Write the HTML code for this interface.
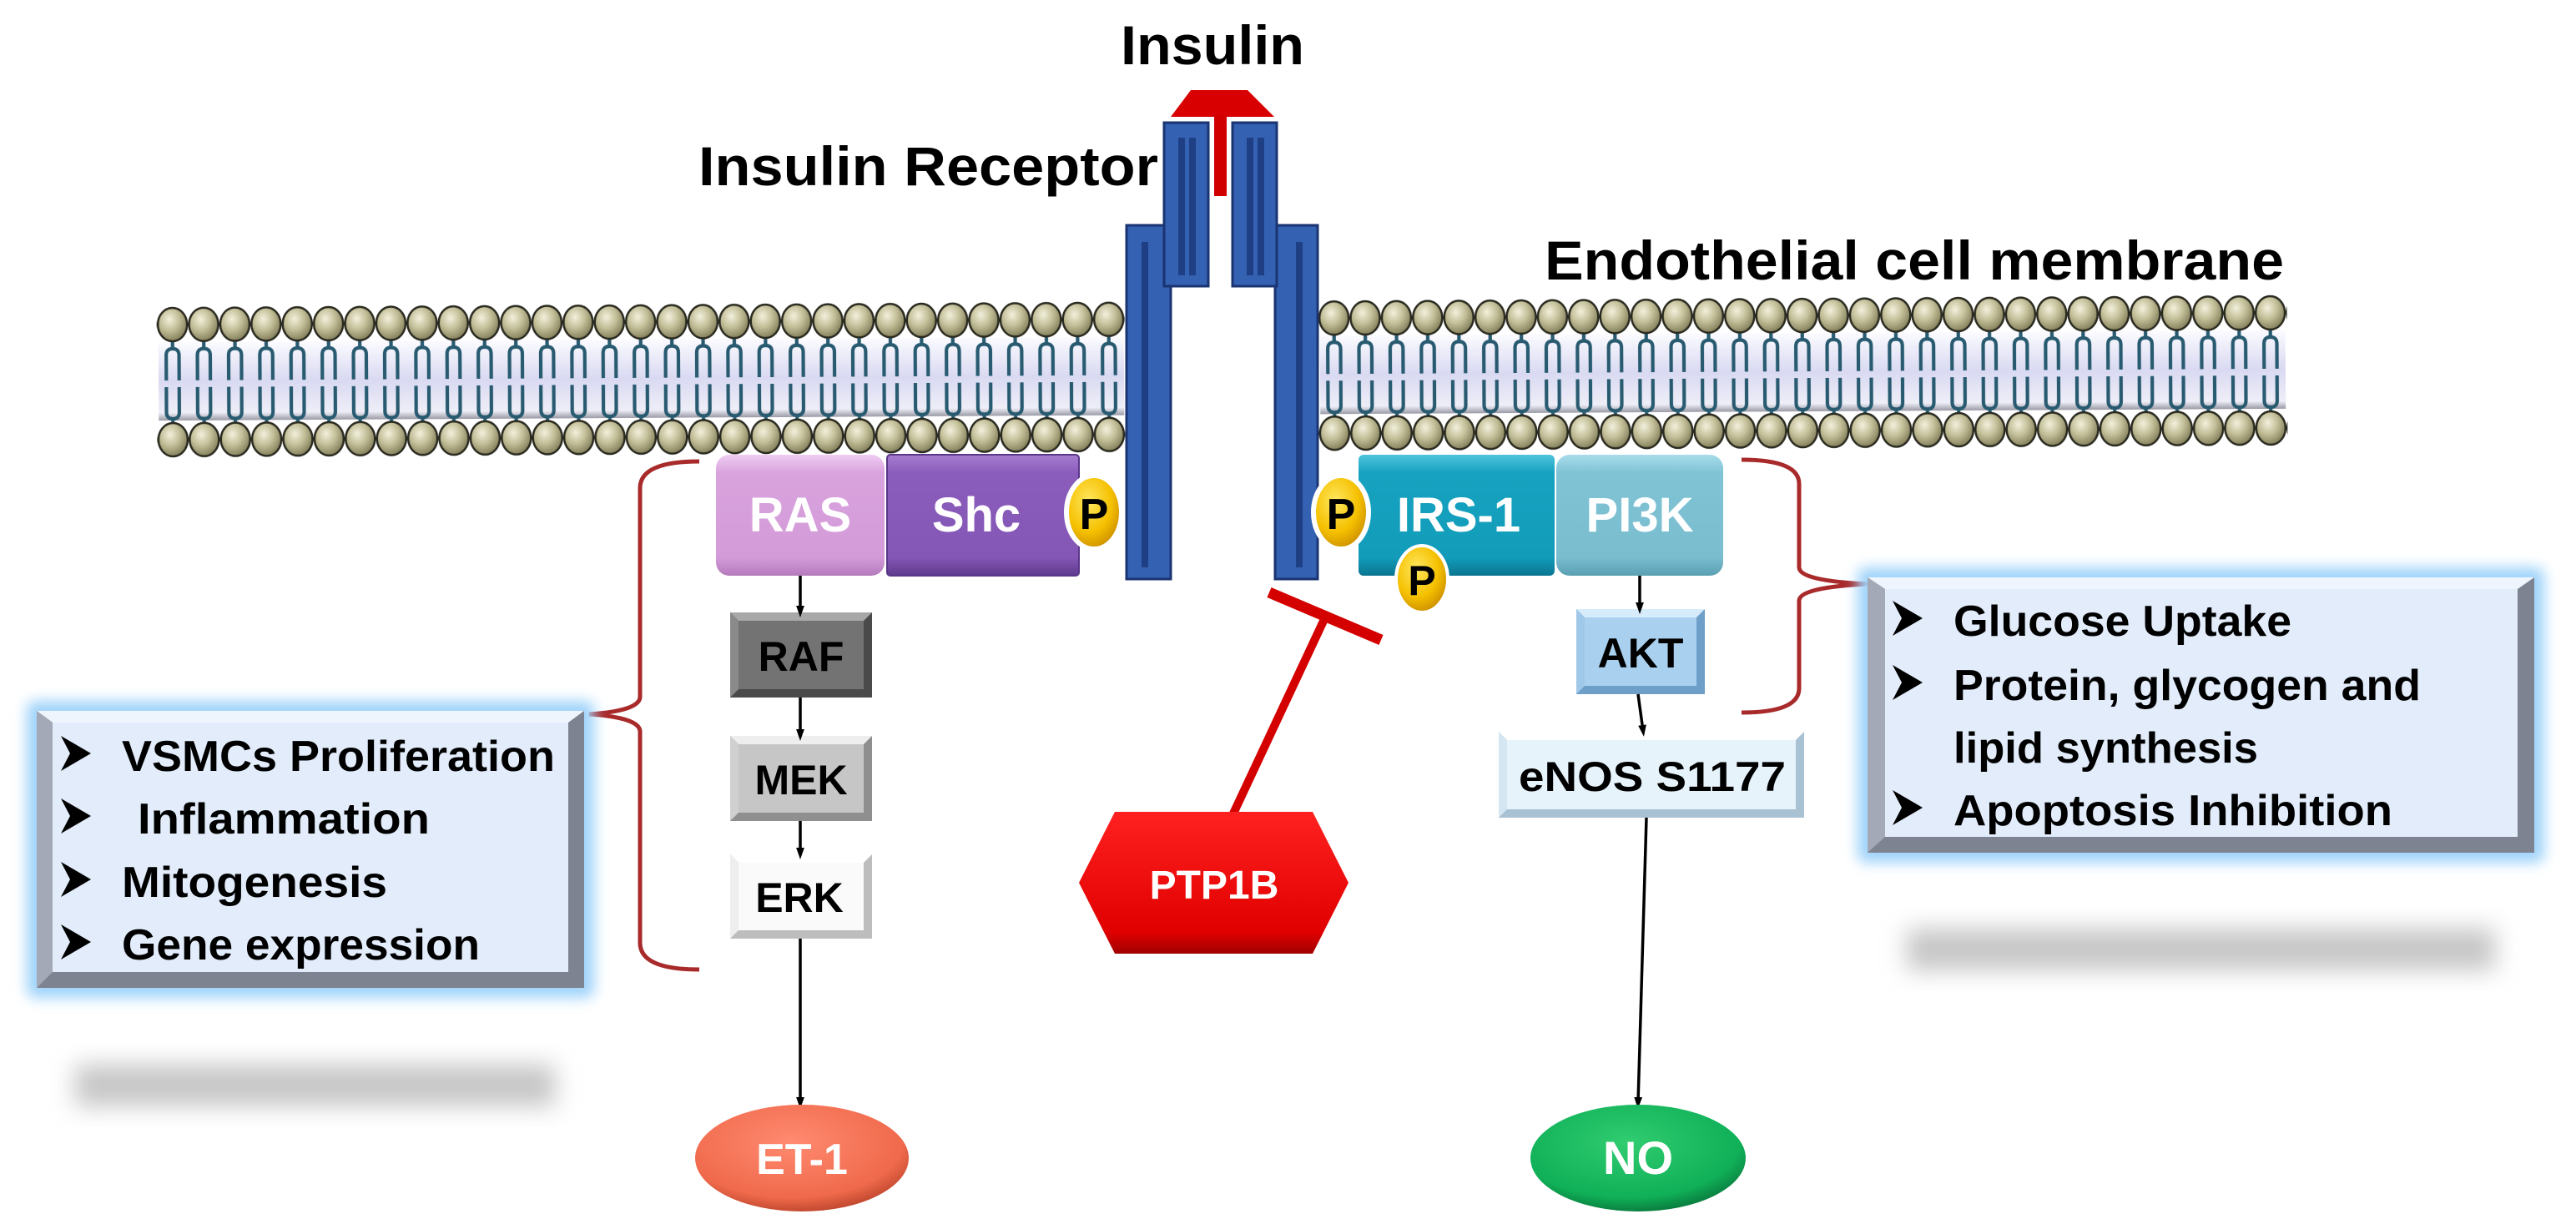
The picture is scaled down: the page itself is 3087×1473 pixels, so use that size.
<!DOCTYPE html>
<html><head><meta charset="utf-8"><style>
html,body{margin:0;padding:0;background:#fff;}
svg{display:block;}
text{font-family:"Liberation Sans",Arial,sans-serif;font-weight:bold;}
</style></head><body>
<svg width="3087" height="1473" viewBox="0 0 3087 1473" xmlns="http://www.w3.org/2000/svg">
<defs>
<radialGradient id="ball" cx="40%" cy="35%" r="65%"><stop offset="0" stop-color="#f2f0dc"/><stop offset="0.5" stop-color="#c4c09a"/><stop offset="1" stop-color="#85815c"/></radialGradient>
<linearGradient id="band" x1="0" y1="0" x2="0" y2="1"><stop offset="0" stop-color="#fbfbff"/><stop offset="0.5" stop-color="#d9d9f2"/><stop offset="0.9" stop-color="#eeeef8"/><stop offset="1" stop-color="#9a9aa6"/></linearGradient>
<pattern id="lipL" patternUnits="userSpaceOnUse" x="188.3" y="345" width="37.4" height="200">
<path d="M18.7,56 V65 M11,104 V74 Q11,66 18.7,66 Q26.4,66 26.4,74 V104 M11,112 V142 Q11,150 18.7,150 Q26.4,150 26.4,142 V112 M18.7,150 V158" stroke="#285a70" stroke-width="4.2" fill="none"/>
<ellipse cx="18.7" cy="37" rx="17.5" ry="20" fill="url(#ball)" stroke="#2a2a20" stroke-width="2.5"/>
<ellipse cx="18.7" cy="175" rx="17.5" ry="20" fill="url(#ball)" stroke="#2a2a20" stroke-width="2.5"/>
</pattern>
<pattern id="lipR" patternUnits="userSpaceOnUse" x="1580.3" y="345" width="37.4" height="200">
<path d="M18.7,56 V65 M11,104 V74 Q11,66 18.7,66 Q26.4,66 26.4,74 V104 M11,112 V142 Q11,150 18.7,150 Q26.4,150 26.4,142 V112 M18.7,150 V158" stroke="#285a70" stroke-width="4.2" fill="none"/>
<ellipse cx="18.7" cy="37" rx="17.5" ry="20" fill="url(#ball)" stroke="#2a2a20" stroke-width="2.5"/>
<ellipse cx="18.7" cy="175" rx="17.5" ry="20" fill="url(#ball)" stroke="#2a2a20" stroke-width="2.5"/>
</pattern>
<linearGradient id="gRAS" x1="0" y1="0" x2="0" y2="1"><stop offset="0" stop-color="#efcdf2"/><stop offset="0.15" stop-color="#d9a3de"/><stop offset="0.85" stop-color="#d39bd8"/><stop offset="1" stop-color="#b57abd"/></linearGradient>
<linearGradient id="gShc" x1="0" y1="0" x2="0" y2="1"><stop offset="0" stop-color="#a57ed0"/><stop offset="0.15" stop-color="#8a5cbb"/><stop offset="0.85" stop-color="#8457b6"/><stop offset="1" stop-color="#5e3a8c"/></linearGradient>
<linearGradient id="gIRS" x1="0" y1="0" x2="0" y2="1"><stop offset="0" stop-color="#4fc4dc"/><stop offset="0.15" stop-color="#16a2c0"/><stop offset="0.85" stop-color="#129cba"/><stop offset="1" stop-color="#0a7590"/></linearGradient>
<linearGradient id="gPI3K" x1="0" y1="0" x2="0" y2="1"><stop offset="0" stop-color="#a8dcea"/><stop offset="0.15" stop-color="#7fc3d5"/><stop offset="0.85" stop-color="#79bdcf"/><stop offset="1" stop-color="#5a9fb2"/></linearGradient>
<radialGradient id="gP" cx="40%" cy="35%" r="70%"><stop offset="0" stop-color="#ffe860"/><stop offset="0.6" stop-color="#f5c000"/><stop offset="1" stop-color="#c88a00"/></radialGradient>
<radialGradient id="gET" cx="45%" cy="35%" r="65%"><stop offset="0" stop-color="#ff8a70"/><stop offset="0.8" stop-color="#f06a4c"/><stop offset="1" stop-color="#c44a30"/></radialGradient>
<radialGradient id="gNO" cx="45%" cy="35%" r="65%"><stop offset="0" stop-color="#30cc70"/><stop offset="0.8" stop-color="#10b058"/><stop offset="1" stop-color="#0a8040"/></radialGradient>
<linearGradient id="gPTP" x1="0" y1="0" x2="0" y2="1"><stop offset="0" stop-color="#ff2020"/><stop offset="0.85" stop-color="#e00000"/><stop offset="1" stop-color="#a00000"/></linearGradient>
<filter id="blur" x="-20%" y="-50%" width="140%" height="200%"><feGaussianBlur stdDeviation="14"/></filter>
<filter id="glow" x="-10%" y="-10%" width="120%" height="120%"><feGaussianBlur stdDeviation="8"/></filter>
<marker id="ah" markerWidth="14" markerHeight="20" refX="10" refY="7" orient="auto" markerUnits="userSpaceOnUse" viewBox="0 0 20 14"><path d="M0,0 L20,7 L0,14 Z" fill="#000"/></marker>
</defs>

<text x="1343" y="77" font-size="66" textLength="220" lengthAdjust="spacingAndGlyphs">Insulin</text>
<text x="837" y="222" font-size="66" textLength="551" lengthAdjust="spacingAndGlyphs">Insulin Receptor</text>
<text x="1851" y="335" font-size="66" textLength="886" lengthAdjust="spacingAndGlyphs">Endothelial cell membrane</text>

<g transform="rotate(-0.32 1460 450)">
<rect x="190" y="403" width="1157" height="94" fill="url(#band)"/>
<rect x="1582" y="403" width="1157" height="94" fill="url(#band)"/>
<rect x="188" y="345" width="1160" height="200" fill="url(#lipL)"/>
<rect x="1580" y="345" width="1161" height="200" fill="url(#lipR)"/>
</g>

<polygon points="1403,140 1427,108 1495,108 1527,140" fill="#d80000"/>
<rect x="1455" y="138" width="15" height="97" fill="#d00000"/>

<g stroke="#1a3472" stroke-width="3">
<rect x="1350" y="270" width="53" height="424" fill="#3461b2"/>
<rect x="1528" y="270" width="51" height="424" fill="#3461b2"/>
<rect x="1395" y="147" width="53" height="196" fill="#3461b2"/>
<rect x="1477" y="147" width="53" height="196" fill="#3461b2"/>
</g>
<g fill="#1f3f85">
<rect x="1368" y="290" width="8" height="390"/>
<rect x="1553" y="290" width="8" height="390"/>
<rect x="1412" y="165" width="8" height="165"/>
<rect x="1425" y="165" width="8" height="165"/>
<rect x="1494" y="165" width="8" height="165"/>
<rect x="1507" y="165" width="8" height="165"/>
</g>

<rect x="858" y="545" width="202" height="145" rx="16" fill="url(#gRAS)"/>
<text x="959" y="637" font-size="58" fill="#fff" text-anchor="middle">RAS</text>
<rect x="1063" y="545" width="230" height="145" rx="4" fill="url(#gShc)" stroke="#5a3588" stroke-width="2"/>
<text x="1170" y="637" font-size="58" fill="#fff" text-anchor="middle">Shc</text>
<ellipse cx="1311" cy="614" rx="33" ry="44" fill="url(#gP)" stroke="#fff" stroke-width="6"/>
<text x="1311" y="634" font-size="52" text-anchor="middle">P</text>

<rect x="1628" y="545" width="235" height="145" rx="6" fill="url(#gIRS)"/>
<text x="1748" y="637" font-size="58" fill="#fff" text-anchor="middle">IRS-1</text>
<rect x="1865" y="545" width="200" height="145" rx="16" fill="url(#gPI3K)"/>
<text x="1965" y="637" font-size="58" fill="#fff" text-anchor="middle">PI3K</text>
<ellipse cx="1607" cy="614" rx="33" ry="44" fill="url(#gP)" stroke="#fff" stroke-width="6"/>
<text x="1607" y="634" font-size="52" text-anchor="middle">P</text>
<ellipse cx="1704" cy="694" rx="31" ry="40" fill="url(#gP)" stroke="#fff" stroke-width="4"/>
<text x="1704" y="713" font-size="50" text-anchor="middle">P</text>

<rect x="875" y="734" width="170" height="102" fill="#4a4a4a"/>
<polygon points="875,734 1045,734 1035,744 885,744" fill="#a8a8a8"/>
<polygon points="875,734 885,744 885,826 875,836" fill="#8a8a8a"/>
<rect x="885" y="744" width="150" height="82" fill="#737373"/>
<text x="960" y="804" font-size="50" text-anchor="middle">RAF</text>

<rect x="875" y="882" width="170" height="102" fill="#8f8f8f"/>
<polygon points="875,882 1045,882 1035,892 885,892" fill="#eeeeee"/>
<polygon points="875,882 885,892 885,974 875,984" fill="#d0d0d0"/>
<rect x="885" y="892" width="150" height="82" fill="#c6c6c6"/>
<text x="960" y="952" font-size="50" text-anchor="middle">MEK</text>

<rect x="875" y="1024" width="170" height="101" fill="#bdbdbd"/>
<polygon points="875,1024 1045,1024 1035,1034 885,1034" fill="#ffffff"/>
<polygon points="875,1024 885,1034 885,1115 875,1125" fill="#eeeeee"/>
<rect x="885" y="1034" width="150" height="81" fill="#fafafa"/>
<text x="958" y="1093" font-size="50" text-anchor="middle">ERK</text>

<rect x="1889" y="730" width="154" height="102" fill="#6d9fc8"/>
<polygon points="1889,730 2043,730 2033,740 1899,740" fill="#d6ecfa"/>
<polygon points="1889,730 1899,740 1899,822 1889,832" fill="#a0c8e8"/>
<rect x="1899" y="740" width="134" height="82" fill="#a9d1ef"/>
<text x="1966" y="800" font-size="50" text-anchor="middle">AKT</text>

<rect x="1796" y="877" width="366" height="103" fill="#a8c2d4"/>
<polygon points="1796,877 2162,877 2152,887 1806,887" fill="#ffffff"/>
<polygon points="1796,877 1806,887 1806,970 1796,980" fill="#d4e6f2"/>
<rect x="1806" y="887" width="346" height="83" fill="#e6f3fb"/>
<text x="1820" y="948" font-size="50" textLength="320" lengthAdjust="spacingAndGlyphs">eNOS S1177</text>

<g stroke="#000" stroke-width="3.5" fill="none" marker-end="url(#ah)">
<line x1="959" y1="690" x2="959" y2="733"/>
<line x1="959" y1="836" x2="959" y2="881"/>
<line x1="959" y1="984" x2="959" y2="1023"/>
<line x1="959" y1="1125" x2="959" y2="1322"/>
<line x1="1965" y1="690" x2="1965" y2="729"/>
<line x1="1963" y1="832" x2="1969" y2="876"/>
<line x1="1973" y1="980" x2="1963" y2="1322"/>
</g>

<line x1="1478" y1="975" x2="1588" y2="740" stroke="#d40000" stroke-width="10"/>
<line x1="1521" y1="710" x2="1655" y2="767" stroke="#d40000" stroke-width="13"/>
<polygon points="1336,973 1573,973 1616,1058 1573,1143 1336,1143 1293,1058" fill="url(#gPTP)"/>
<text x="1455" y="1077" font-size="48" fill="#fff" text-anchor="middle">PTP1B</text>

<ellipse cx="961" cy="1388" rx="128" ry="64" fill="url(#gET)"/>
<text x="961" y="1407" font-size="52" fill="#fff" text-anchor="middle">ET-1</text>
<ellipse cx="1963" cy="1388" rx="129" ry="64" fill="url(#gNO)"/>
<text x="1963" y="1407" font-size="56" fill="#fff" text-anchor="middle">NO</text>

<g stroke="#a82a2a" stroke-width="5" fill="none">
<path d="M838,553 Q767,553 767,585 V835 Q767,852 706,856 Q767,860 767,877 V1130 Q767,1162 838,1162"/>
<path d="M2087,551 Q2156,551 2156,580 V680 Q2156,696 2238,700 Q2156,704 2156,720 V825 Q2156,854 2087,854"/>
</g>

<rect x="90" y="1276" width="575" height="50" fill="#c6c6c6" filter="url(#blur)"/>
<rect x="2285" y="1113" width="705" height="50" fill="#c6c6c6" filter="url(#blur)"/>

<rect x="32" y="840" width="680" height="356" rx="10" fill="#9fd3fa" filter="url(#glow)"/>
<rect x="44" y="852" width="656" height="332" fill="#7d8391"/>
<polygon points="44,852 700,852 681,866 63,866" fill="#eef5fd"/>
<polygon points="44,852 63,866 63,1165 44,1184" fill="#a3a9b6"/>
<rect x="63" y="866" width="618" height="299" fill="#e2ecfa"/>
<g fill="#000">
<polygon points="73,882 109,903 73,924 84,903"/>
<polygon points="73,957 109,978 73,999 84,978"/>
<polygon points="73,1033 109,1054 73,1075 84,1054"/>
<polygon points="73,1108 109,1129 73,1150 84,1129"/>
</g>
<text x="146" y="924" font-size="52" textLength="519" lengthAdjust="spacingAndGlyphs">VSMCs Proliferation</text>
<text x="165" y="999" font-size="52" textLength="350" lengthAdjust="spacingAndGlyphs">Inflammation</text>
<text x="146" y="1075" font-size="52" textLength="318" lengthAdjust="spacingAndGlyphs">Mitogenesis</text>
<text x="146" y="1150" font-size="52" textLength="429" lengthAdjust="spacingAndGlyphs">Gene expression</text>

<rect x="2226" y="680" width="823" height="354" rx="10" fill="#9fd3fa" filter="url(#glow)"/>
<rect x="2238" y="692" width="799" height="330" fill="#7d8391"/>
<polygon points="2238,692 3037,692 3017,706 2259,706" fill="#eef5fd"/>
<polygon points="2238,692 2259,706 2259,1003 2238,1022" fill="#a3a9b6"/>
<rect x="2259" y="706" width="758" height="297" fill="#e2ecfa"/>
<g fill="#000">
<polygon points="2268,720 2304,741 2268,762 2279,741"/>
<polygon points="2268,797 2304,818 2268,839 2279,818"/>
<polygon points="2268,947 2304,968 2268,989 2279,968"/>
</g>
<text x="2341" y="762" font-size="52" textLength="405" lengthAdjust="spacingAndGlyphs">Glucose Uptake</text>
<text x="2341" y="839" font-size="52" textLength="560" lengthAdjust="spacingAndGlyphs">Protein, glycogen and</text>
<text x="2341" y="914" font-size="52" textLength="365" lengthAdjust="spacingAndGlyphs">lipid synthesis</text>
<text x="2341" y="989" font-size="52" textLength="526" lengthAdjust="spacingAndGlyphs">Apoptosis Inhibition</text>
</svg>
</body></html>
